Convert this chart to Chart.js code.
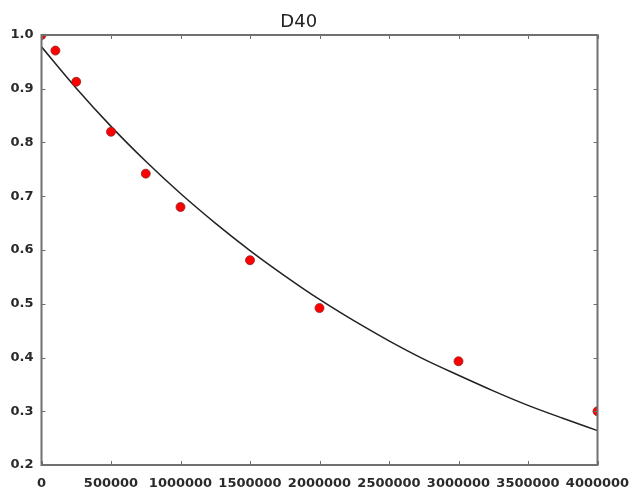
<!DOCTYPE html>
<html>
<head>
<meta charset="utf-8">
<script src="https://cdn.jsdelivr.net/npm/chart.js@4/dist/chart.umd.min.js"></script>
<style>
html,body{margin:0;padding:0;background:#fff;}
#c{display:block;}
</style>
</head>
<body>
<canvas id="c" width="633" height="492"></canvas>
<script>
const chartTitle = "D40";
const xValues = [0, 100000, 250000, 500000, 750000, 1000000, 1500000, 2000000, 3000000, 4000000];
const yValues = [1.0, 0.971, 0.913, 0.820, 0.742, 0.680, 0.581, 0.492, 0.393, 0.300];
const fitX = [0, 250000, 500000, 750000, 1000000, 1250000, 1500000, 1750000, 2000000, 2250000, 2500000, 2750000, 3000000, 3250000, 3500000, 3750000, 4000000];
const fitY = [0.978, 0.901, 0.830, 0.765, 0.705, 0.650, 0.599, 0.552, 0.508, 0.468, 0.431, 0.397, 0.367, 0.338, 0.311, 0.287, 0.264];
const xTicks = [0, 500000, 1000000, 1500000, 2000000, 2500000, 3000000, 3500000, 4000000];
const yTicks = [0.2, 0.3, 0.4, 0.5, 0.6, 0.7, 0.8, 0.9, 1.0];

const pointData = xValues.map((x, i) => ({x: x, y: yValues[i]}));
const fitData = fitX.map((x, i) => ({x: x, y: fitY[i]}));

const framePlugin = {
  id: 'frame',
  afterDatasetsDraw(chart) {
    const ctx = chart.ctx;
    const a = chart.chartArea;
    const xs = chart.scales.x, ys = chart.scales.y;
    ctx.save();
    ctx.strokeStyle = '#6e6e6e';
    ctx.lineWidth = 1;
    const tl = 4;
    ctx.beginPath();
    xTicks.forEach(v => {
      const px = Math.round(xs.getPixelForValue(v)) + 0.5;
      ctx.moveTo(px, a.bottom); ctx.lineTo(px, a.bottom - tl);
      ctx.moveTo(px, a.top); ctx.lineTo(px, a.top + tl);
    });
    yTicks.forEach(v => {
      const py = Math.round(ys.getPixelForValue(v)) + 0.5;
      ctx.moveTo(a.left, py); ctx.lineTo(a.left + tl, py);
      ctx.moveTo(a.right, py); ctx.lineTo(a.right - tl, py);
    });
    ctx.stroke();
    ctx.lineWidth = 2;
    ctx.strokeStyle = '#707070';
    ctx.strokeRect(a.left, a.top, a.right - a.left, a.bottom - a.top);
    ctx.restore();
  }
};

new Chart(document.getElementById('c'), {
  type: 'scatter',
  data: {
    datasets: [
      {
        label: 'fit',
        type: 'line',
        data: fitData,
        borderColor: '#222222',
        borderWidth: 1.5,
        pointRadius: 0,
        fill: false,
        tension: 0.4,
        cubicInterpolationMode: 'monotone',
        order: 2
      },
      {
        label: 'data',
        data: pointData,
        backgroundColor: '#ff0000',
        borderColor: '#8a2a2a',
        borderWidth: 0.8,
        pointRadius: 4.5,
        clip: 0,
        order: 1
      }
    ]
  },
  options: {
    responsive: false,
    animation: false,
    layout: {padding: {left: 0, right: 35.5, top: 0, bottom: 0}},
    plugins: {
      legend: {display: false},
      tooltip: {enabled: false},
      title: {
        display: true,
        text: chartTitle,
        color: '#222',
        font: {family: 'DejaVu Sans', size: 18, weight: 'normal'},
        padding: {top: 12, bottom: 1.4}
      }
    },
    scales: {
      x: {
        type: 'linear',
        min: 0, max: 4000000,
        grid: {display: false, drawTicks: false},
        border: {display: false},
        afterBuildTicks(s) { s.ticks = xTicks.map(v => ({value: v})); },
        afterFit(s) { s.height = 27; s.paddingLeft = 0; s.paddingRight = 0; },
        ticks: {
          color: '#2a2a2a',
          font: {family: 'DejaVu Sans', size: 13, weight: 'bold'},
          padding: 11,
          maxRotation: 0,
          autoSkip: false,
          callback: v => String(v)
        }
      },
      y: {
        type: 'linear',
        min: 0.2, max: 1.0,
        grid: {display: false, drawTicks: false},
        border: {display: false},
        afterBuildTicks(s) { s.ticks = yTicks.map(v => ({value: v})); },
        afterFit(s) { s.width = 41.5; s.paddingTop = 0; s.paddingBottom = 0; },
        ticks: {
          color: '#2a2a2a',
          font: {family: 'DejaVu Sans', size: 13, weight: 'bold'},
          padding: 8,
          autoSkip: false,
          callback: v => Number(v).toFixed(1)
        }
      }
    }
  },
  plugins: [framePlugin]
});
</script>
</body>
</html>
